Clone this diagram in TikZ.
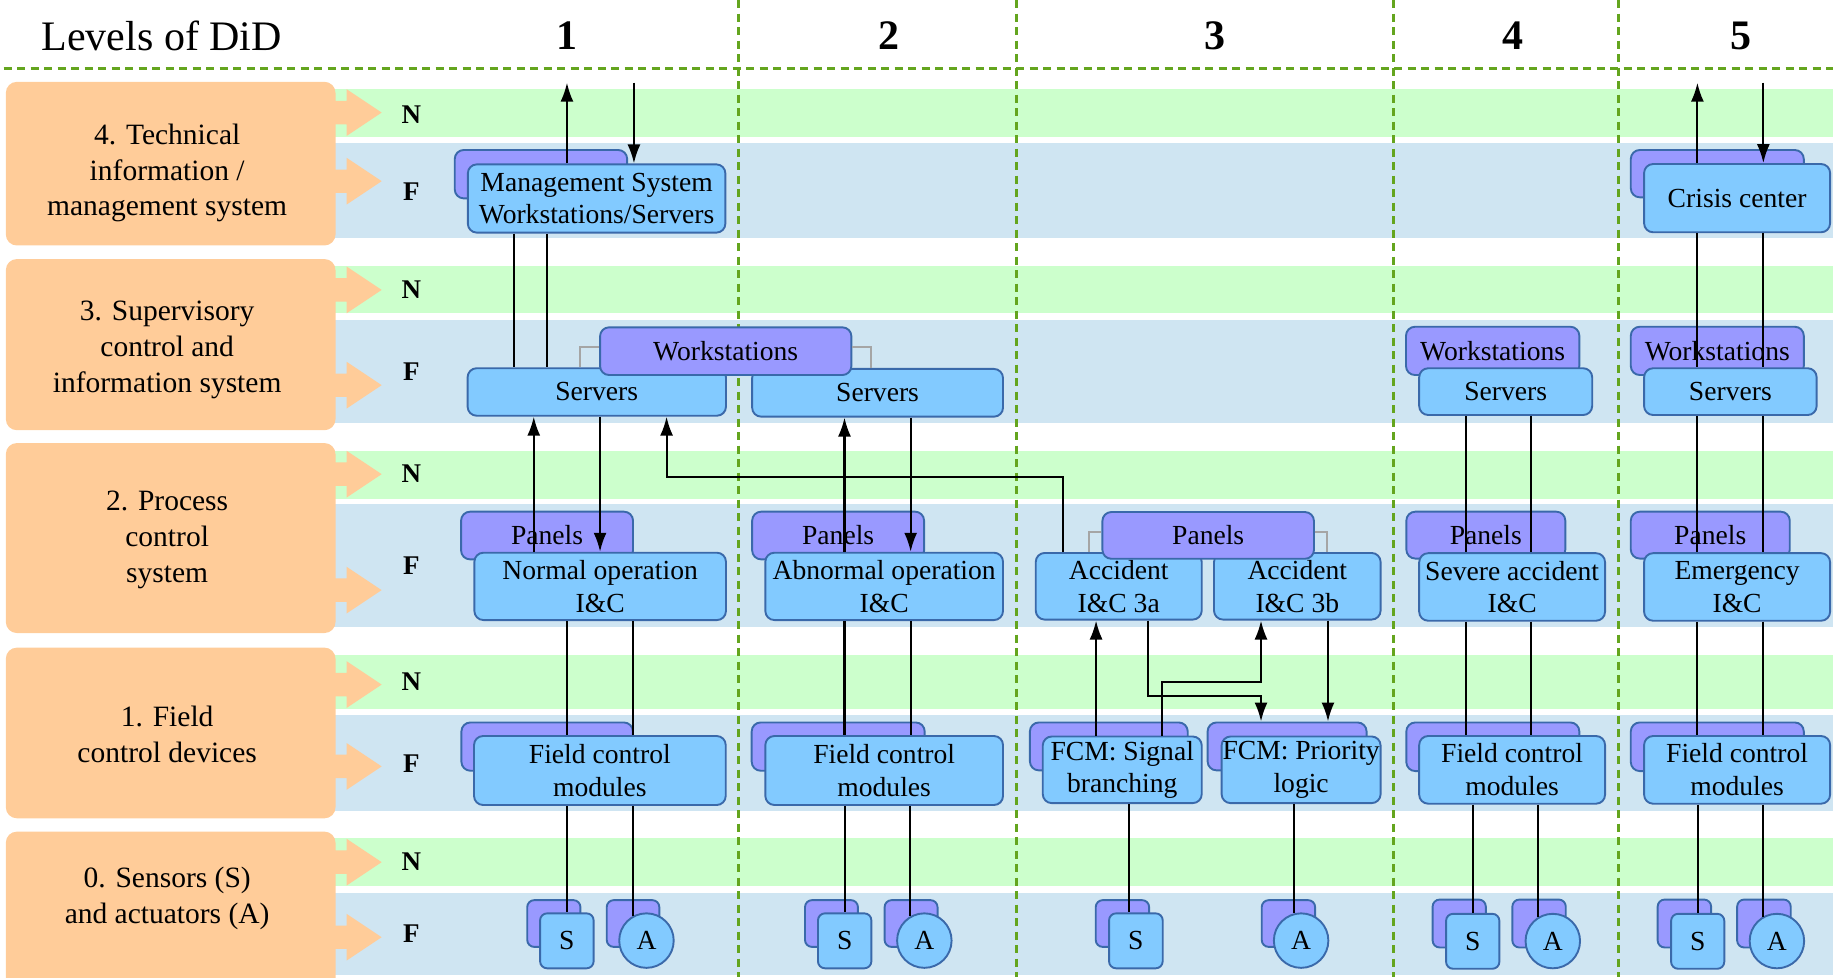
\documentclass[tikz,border=0pt]{standalone}
\usepackage{fontspec}
\setmainfont[Ligatures=TeX]{Liberation Serif}
\usetikzlibrary{arrows.meta}
\definecolor{orng}{RGB}{255,204,153}
\definecolor{gband}{RGB}{204,255,204}
\definecolor{bband}{RGB}{207,229,242}
\definecolor{fblue}{RGB}{130,202,255}
\definecolor{purp}{RGB}{153,153,255}
\definecolor{bdr}{RGB}{58,105,170}
\definecolor{dgreen}{RGB}{100,165,30}
\definecolor{gryl}{RGB}{165,165,165}
\newcommand{\mynf}{\rmfamily\fontsize{27.6}{32.7}\selectfont}
\newcommand{\mylf}{\rmfamily\fontsize{29.5}{35.9}\selectfont}
\newcommand{\myhf}{\rmfamily\fontsize{42}{48}\selectfont}
\newcommand{\mynff}{\rmfamily\fontsize{27}{30}\selectfont\bfseries}
\newcommand{\mybox}[7]{%
  \pgfmathsetmacro{\mybw}{(#5-#3)*1.16901}%
  \pgfmathsetmacro{\mybh}{(#6-#4)*1.16901}%
  \node[#2, minimum width=\mybw pt, minimum height=\mybh pt] (#1) at ({(#3+#5)/2},{(#4+#6)/2}) {#7};}
\newcommand{\myarr}[1]{%
  \fill[orng] (284,#1-10) -- (296.5,#1-10) -- (296.5,#1-20) -- (326.5,#1) -- (296.5,#1+20) -- (296.5,#1+10) -- (284,#1+10) -- cycle;}
\tikzset{
  frontbox/.style={draw=bdr, fill=fblue, line width=1.9pt, rounded corners=9pt, inner sep=0pt, align=center, font=\mynf},
  backbox/.style={draw=bdr, fill=purp, line width=1.9pt, rounded corners=9pt, inner sep=0pt, align=center, font=\mynf},
  sbox/.style={frontbox, rounded corners=7pt},
  sback/.style={backbox, rounded corners=7pt},
  acirc/.style={circle, draw=bdr, fill=fblue, line width=1.9pt, inner sep=0pt, minimum size=54.5pt, font=\mynf},
  conn/.style={line width=2.1pt, draw=black},
  arr/.style={conn, -{Latex[length=19pt,width=13pt]}},
  brk/.style={line width=1.6pt, draw=gryl},
  lvl/.style={fill=orng, rounded corners=11pt, inner sep=0pt},
  lvltext/.style={font=\mylf, align=center, inner sep=0pt},
  nflab/.style={font=\mynff, inner sep=0pt},
  didline/.style={draw=dgreen, line width=2.8pt, dash pattern=on 8pt off 5.5pt},
  hdr/.style={font=\myhf, inner sep=0pt},
  hdrb/.style={font=\myhf\bfseries, inner sep=0pt}
}
\begin{document}
\begin{tikzpicture}[x=1.16901pt, y=-1.16901pt]
\useasboundingbox (0,0) rectangle (1568,835.75);
\clip (0,0) rectangle (1568,835.75);
% bands
\fill[gband] (284,76.4) rectangle (1568,117);
\fill[bband] (284,122.5) rectangle (1568,204);
\fill[gband] (284,227.6) rectangle (1568,268);
\fill[bband] (284,274) rectangle (1568,361.5);
\fill[gband] (284,385.5) rectangle (1568,426.5);
\fill[bband] (284,431.5) rectangle (1568,536.5);
\fill[gband] (284,560) rectangle (1568,606.6);
\fill[bband] (284,611.7) rectangle (1568,694);
\fill[gband] (284,717) rectangle (1568,758);
\fill[bband] (284,764) rectangle (1568,834);
% level boxes
\mybox{lv4}{lvl}{5}{70}{287}{210}{}
\mybox{lv3}{lvl}{5}{221.6}{287}{368}{}
\mybox{lv2}{lvl}{5}{379}{287}{541.5}{}
\mybox{lv1}{lvl}{5}{554}{287}{700}{}
\mybox{lv0}{lvl}{5}{711.4}{287}{870}{}
\myarr{96.3}\myarr{155}\myarr{248}\myarr{329.5}\myarr{405.6}
\myarr{504.8}\myarr{585.6}\myarr{655.6}\myarr{737.5}\myarr{801.7}
\node[lvltext] (t4) at (143,148) {4. Technical\\information /\\management system};
\node[lvltext] (t3) at (143,299.5) {3. Supervisory\\control and\\information system};
\node[lvltext] (t2) at (143,462) {2. Process\\control\\system};
\node[lvltext] (t1) at (143,628) {1. Field\\control devices};
\node[lvltext] (t0) at (143,768.5) {0. Sensors (S)\\and actuators (A)};
% N / F labels
\node[nflab] (n4) at (352,97.9) {N};  \node[nflab] (f4) at (352,163.9) {F};
\node[nflab] (n3) at (352,248) {N};   \node[nflab] (f3) at (352,318) {F};
\node[nflab] (n2) at (352,405.5) {N}; \node[nflab] (f2) at (352,484) {F};
\node[nflab] (n1) at (352,583) {N};   \node[nflab] (f1) at (352,653) {F};
\node[nflab] (n0) at (352,737.5) {N}; \node[nflab] (f0) at (352,799) {F};
% header
\node[hdr, anchor=base] (did) at (138.3,42.8) {Levels of DiD};
\node[hdrb, anchor=base] (h1) at (485,42) {1};
\node[hdrb, anchor=base] (h2) at (760.6,42) {2};
\node[hdrb, anchor=base] (h3) at (1039,42) {3};
\node[hdrb, anchor=base] (h4) at (1294,42) {4};
\node[hdrb, anchor=base] (h5) at (1489,42) {5};
% dashed grid
\draw[didline] (3,58.5) -- (1568,58.5);
\draw[didline] (631.7,0) -- (631.7,836);
\draw[didline] (869.6,0) -- (869.6,836);
\draw[didline] (1192,0) -- (1192,836);
\draw[didline] (1384.4,0) -- (1384.4,836);
% back boxes
\mybox{mgmtB}{backbox}{389}{128.3}{536.5}{169.7}{}
\mybox{crisB}{backbox}{1395}{128.3}{1543}{168.8}{}
\mybox{ws4}{backbox}{1202.7}{279.5}{1351}{320.8}{Workstations}
\mybox{ws5}{backbox}{1395}{279.5}{1543}{320.8}{Workstations}
\mybox{pan1}{backbox}{394.4}{437.7}{541.5}{478.5}{Panels}
\mybox{pan2}{backbox}{643.4}{437.7}{790.5}{478.5}{Panels}
\mybox{pan4}{backbox}{1203}{437.7}{1339}{477.8}{Panels}
\mybox{pan5}{backbox}{1395}{437.7}{1531}{477.8}{Panels}
\mybox{fcb1}{backbox}{394.7}{618}{541.4}{659.3}{}
\mybox{fcb2}{backbox}{643}{618}{791}{659.3}{}
\mybox{fcb3a}{backbox}{881}{618}{1016}{659}{}
\mybox{fcb3b}{backbox}{1033}{618}{1169}{659}{}
\mybox{fcb4}{backbox}{1203}{618}{1351}{659.6}{}
\mybox{fcb5}{backbox}{1395}{618}{1543}{659.6}{}
\mybox{Sb1}{sback}{451}{770}{496.5}{810}{}
\mybox{Ab1}{sback}{519}{770}{564}{810}{}
\mybox{Sb2}{sback}{688.6}{770}{733.9}{810}{}
\mybox{Ab2}{sback}{756.7}{770}{802}{810}{}
\mybox{Sb3}{sback}{937.3}{770}{983}{810}{}
\mybox{Ab3}{sback}{1079.3}{770}{1125}{810}{}
\mybox{Sb4}{sback}{1225.5}{769.5}{1271}{810.5}{}
\mybox{Ab4}{sback}{1293.7}{769.5}{1339.4}{810.5}{}
\mybox{Sb5}{sback}{1418}{769.5}{1463.7}{810.5}{}
\mybox{Ab5}{sback}{1486}{769.5}{1531.8}{810.5}{}
% front boxes
\mybox{mgmt}{frontbox}{400.2}{140.6}{620.5}{199}{Management System\\Workstations/Servers}
\mybox{crisis}{frontbox}{1406.4}{140.3}{1565.5}{198.7}{Crisis center}
\mybox{srv1}{frontbox}{400}{315}{621}{355.6}{Servers}
\mybox{srv2}{frontbox}{643.4}{315.6}{858}{356.4}{Servers}
\mybox{srv4}{frontbox}{1214}{315}{1362}{355}{Servers}
\mybox{srv5}{frontbox}{1406.4}{315}{1554}{355}{Servers}
\mybox{nop}{frontbox}{405.8}{472.8}{621}{530.4}{Normal operation\\I\&C}
\mybox{abn}{frontbox}{654.7}{472.8}{858}{530.4}{Abnormal operation\\I\&C}
\mybox{acc3a}{frontbox}{886}{473}{1028}{530}{Accident\\I\&C 3a}
\mybox{acc3b}{frontbox}{1038.5}{473}{1181}{530}{Accident\\I\&C 3b}
\mybox{sev}{frontbox}{1214}{473.2}{1373}{531}{Severe accident\\I\&C}
\mybox{emg}{frontbox}{1406.4}{473.2}{1565.5}{531}{Emergency\\I\&C}
\mybox{fcm1}{frontbox}{405.5}{629.6}{620.8}{688.6}{Field control\\modules}
\mybox{fcm2}{frontbox}{654.7}{629.6}{858}{688.6}{Field control\\modules}
\mybox{fcm3a}{frontbox}{892}{630}{1028}{687}{FCM: Signal\\branching}
\mybox{fcm3b}{frontbox}{1045}{630}{1181}{687}{FCM: Priority\\logic}
\mybox{fcm4}{frontbox}{1214}{629.6}{1373}{687.5}{Field control\\modules}
\mybox{fcm5}{frontbox}{1406.4}{629.6}{1565.5}{687.5}{Field control\\modules}
\mybox{S1}{sbox}{462}{781.3}{507.8}{828.3}{S}
\mybox{S2}{sbox}{699.7}{781.3}{745.4}{828.3}{S}
\mybox{S3}{sbox}{948.7}{781.3}{994.6}{828.3}{S}
\mybox{S4}{sbox}{1237}{781.7}{1282.6}{828.7}{S}
\mybox{S5}{sbox}{1429.5}{781.7}{1475}{828.7}{S}
\node[acirc] (A1) at (553,804.6) {A};
\node[acirc] (A2) at (790.7,804.6) {A};
\node[acirc] (A3) at (1113,804.6) {A};
\node[acirc] (A4) at (1328.3,805) {A};
\node[acirc] (A5) at (1520,805) {A};
% ---- connectors, column 1
\coordinate (t1u) at (485,70.7);
\coordinate (t1d) at (542.3,70.7);
\draw[arr] (t1u |- mgmt.north) -- (t1u);
\draw[arr] (t1d) -- (t1d |- mgmt.north);
\coordinate (m1a) at (439.6,0); \coordinate (m1b) at (467.8,0);
\draw[conn] (mgmt.south -| m1a) -- (srv1.north -| m1a);
\draw[conn] (mgmt.south -| m1b) -- (srv1.north -| m1b);
\coordinate (u1) at (456.6,0); \coordinate (d1) at (513.3,0);
\draw[arr] (nop.north -| u1) -- (srv1.south -| u1);
\draw[arr] (srv1.south -| d1) -- (nop.north -| d1);
\coordinate (ka) at (909,408.3); \coordinate (kb) at (570.2,408.3);
\draw[arr] (acc3a.north -| ka) -- (ka) -- (kb) -- (kb |- srv1.south);
\coordinate (l1a) at (485.4,0); \coordinate (l1b) at (541.7,0);
\draw[conn] (nop.south -| l1a) -- (fcm1.north -| l1a);
\draw[conn] (nop.south -| l1b) -- (fcm1.north -| l1b);
\draw[conn] (fcm1.south -| S1.north) -- (S1.north);
\draw[conn] (fcm1.south -| A1.118) -- (A1.118);
% column 2
\coordinate (u2) at (722.4,0); \coordinate (d2) at (779,0);
\draw[arr] (abn.north -| u2) -- (srv2.south -| u2);
\draw[arr] (srv2.south -| d2) -- (abn.north -| d2);
\draw[conn] (abn.south -| u2) -- (fcm2.north -| u2);
\draw[conn] (abn.south -| d2) -- (fcm2.north -| d2);
\draw[conn] (fcm2.south -| S2.north) -- (S2.north);
\draw[conn] (fcm2.south -| A2.120) -- (A2.120);
% column 3
\coordinate (u3) at (937.6,0);
\coordinate (a3) at (982,595.5);
\coordinate (m3) at (1078.7,0);
\coordinate (b3) at (994,583.4);
\coordinate (d3) at (1136,0);
\coordinate (s3) at (965.8,0);
\draw[arr] (fcm3a.north -| u3) -- (acc3a.south -| u3);
\draw[arr] (acc3a.south -| a3) -- (a3) -- (m3 |- a3) -- (fcb3b.north -| m3);
\draw[arr] (fcm3a.north -| b3) -- (b3) -- (m3 |- b3) -- (acc3b.south -| m3);
\draw[arr] (acc3b.south -| d3) -- (fcb3b.north -| d3);
\draw[conn] (fcm3a.south -| s3) -- (S3.north -| s3);
\draw[conn] (fcm3b.south -| A3.105) -- (A3.105);
% column 4
\coordinate (x4a) at (1254,0); \coordinate (x4b) at (1310,0);
\draw[conn] (srv4.south -| x4a) -- (sev.north -| x4a);
\draw[conn] (srv4.south -| x4b) -- (sev.north -| x4b);
\draw[conn] (sev.south -| x4a) -- (fcm4.north -| x4a);
\draw[conn] (sev.south -| x4b) -- (fcm4.north -| x4b);
\draw[conn] (fcm4.south -| S4.north) -- (S4.north);
\draw[conn] (fcm4.south -| A4.122) -- (A4.122);
% column 5
\coordinate (t5u) at (1452,70.7); \coordinate (t5d) at (1508.4,70.7);
\draw[arr] (t5u |- crisis.north) -- (t5u);
\draw[arr] (t5d) -- (t5d |- crisis.north);
\draw[conn] (crisis.south -| t5u) -- (srv5.north -| t5u);
\draw[conn] (crisis.south -| t5d) -- (srv5.north -| t5d);
\draw[conn] (srv5.south -| t5u) -- (emg.north -| t5u);
\draw[conn] (srv5.south -| t5d) -- (emg.north -| t5d);
\draw[conn] (emg.south -| t5u) -- (fcm5.north -| t5u);
\draw[conn] (emg.south -| t5d) -- (fcm5.north -| t5d);
\draw[conn] (fcm5.south -| S5.north) -- (S5.north);
\draw[conn] (fcm5.south -| A5.120) -- (A5.120);
% top boxes with brackets
\mybox{wsA}{backbox}{513.3}{280}{728.3}{320.8}{Workstations}
\coordinate (br1) at (496,297); \coordinate (br2) at (745.3,297);
\draw[brk] (wsA.west |- br1) -- (br1) -- (br1 |- srv1.north);
\draw[brk] (wsA.east |- br2) -- (br2) -- (br2 |- srv2.north);
\mybox{pan3}{backbox}{943}{438}{1124}{478}{Panels}
\coordinate (br3) at (931.5,455); \coordinate (br4) at (1135.2,455);
\draw[brk] (pan3.west |- br3) -- (br3) -- (br3 |- acc3a.north);
\draw[brk] (pan3.east |- br4) -- (br4) -- (br4 |- acc3b.north);
\end{tikzpicture}
\end{document}
